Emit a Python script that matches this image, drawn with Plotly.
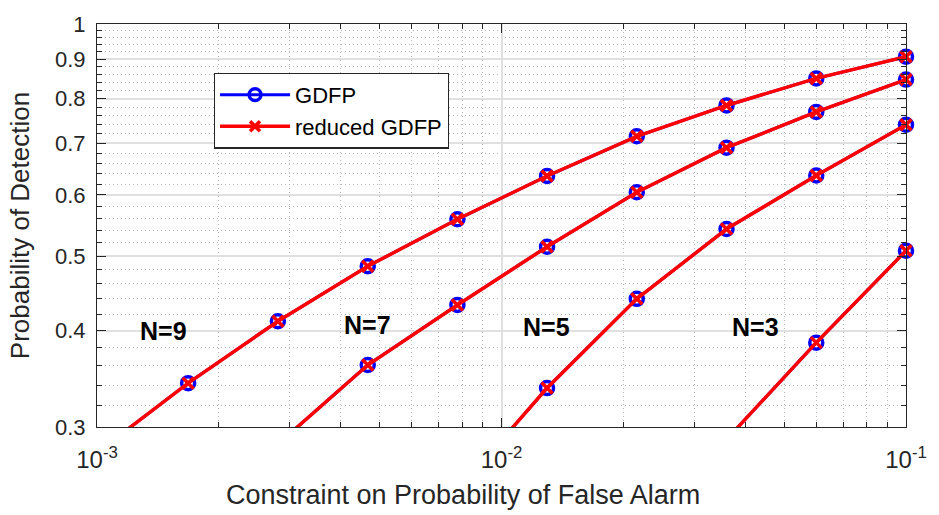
import math
import plotly.graph_objects as go

# Constraint on probability of false alarm (x) for each marker
pfa = [0.1, 0.06, 0.036, 0.0216, 0.01296, 0.00778, 0.00467, 0.0028, 0.00168, 0.00101]

# Probability of detection for N = 9, 7, 5, 3 (last value lies below the axis and is clipped)
pd_n9 = [0.907, 0.850, 0.784, 0.715, 0.635, 0.558, 0.485, 0.4115, 0.342, 0.279]
pd_n7 = [0.847, 0.769, 0.691, 0.605, 0.514, 0.432, 0.361, 0.285]
pd_n5 = [0.740, 0.636, 0.542, 0.440, 0.337, 0.248]
pd_n3 = [0.508, 0.386, 0.289]

curves = [("N=9", pd_n9), ("N=7", pd_n7), ("N=5", pd_n5), ("N=3", pd_n3)]
label_pos = {"N=9": (0.001457, 0.400), "N=7": (0.00467, 0.407),
             "N=5": (0.0129, 0.404), "N=3": (0.0424, 0.405)}

x_ticks = [1e-3, 1e-2, 1e-1]
x_ticktext = ["10<sup>-3</sup>", "10<sup>-2</sup>", "10<sup>-1</sup>"]
y_ticks = [0.3, 0.4, 0.5, 0.6, 0.7, 0.8, 0.9, 1.0]
y_ticktext = ["0.3", "0.4", "0.5", "0.6", "0.7", "0.8", "0.9", "1"]
x_minor = [m * 10.0 ** e for e in (-3, -2) for m in range(2, 10)]
y_minor = [round(0.30 + 0.02 * k, 2) for k in range(36) if k % 5 != 0]

FONT = "Liberation Sans, Arial, sans-serif"
fig = go.Figure()

def sizes(vals, s):
    return [s if v >= 0.3 else 0 for v in vals]

for i, (name, vals) in enumerate(curves):
    xs = pfa[:len(vals)]
    fig.add_trace(go.Scatter(
        x=xs, y=vals, mode="lines+markers", name="GDFP",
        legendgroup="gdfp", showlegend=(i == 0),
        line=dict(color="#0000ff", width=3),
        marker=dict(symbol="circle", size=sizes(vals, 13), color="rgba(0,0,0,0)",
                    opacity=1, line=dict(width=3.5, color="#0000ff")),
        cliponaxis=False))
for i, (name, vals) in enumerate(curves):
    xs = pfa[:len(vals)]
    fig.add_trace(go.Scatter(
        x=xs, y=vals, mode="lines+markers", name="reduced GDFP",
        legendgroup="red", showlegend=(i == 0),
        line=dict(color="#ff0000", width=3.5),
        marker=dict(symbol="x-thin-open", size=sizes(vals, 11), color="#ff0000",
                    opacity=1, line=dict(width=3.5, color="#ff0000")),
        cliponaxis=False))

for name, (lx, ly) in label_pos.items():
    fig.add_annotation(x=math.log10(lx), y=math.log10(ly), xref="x", yref="y",
                       text="<b>" + name + "</b>", showarrow=False,
                       font=dict(size=25, color="black", family=FONT))

fig.add_annotation(x=(467 - 97) / 817, y=-0.168, xref="paper", yref="paper",
                   text="Constraint on Probability of False Alarm", showarrow=False,
                   xanchor="center", yanchor="middle",
                   font=dict(size=27, color="#262626", family=FONT))

axis_common = dict(
    showline=True, linecolor="#262626", linewidth=1.2, mirror="allticks",
    ticks="inside", ticklen=9, tickcolor="#262626", tickwidth=1,
    showgrid=True, gridcolor="#e0e0e0", gridwidth=1.5,
    zeroline=False,
)
minor_common = dict(ticks="inside", ticklen=5, tickcolor="#262626", showgrid=True,
                    gridcolor="#b8b8b8", griddash="1px,3px", gridwidth=1)

fig.update_xaxes(type="log", range=[-3, -0.99999], tickvals=x_ticks, ticktext=x_ticktext,
                 ticklabelstandoff=11,
                 tickfont=dict(size=24, color="#262626", family=FONT),
                 minor=dict(tickvals=x_minor, **minor_common),
                 **axis_common)
fig.update_yaxes(type="log", range=[-0.5228787, 0], tickvals=y_ticks,
                 ticktext=y_ticktext, ticklabelstandoff=6,
                 tickfont=dict(size=22, color="#262626", family=FONT),
                 title=dict(text="Probability of Detection", standoff=17,
                            font=dict(size=26, color="#262626", family=FONT)),
                 minor=dict(tickvals=y_minor, **minor_common),
                 **axis_common)

fig.update_layout(
    width=939, height=515,
    margin=dict(l=97, r=25, t=13, b=88),
    paper_bgcolor="white", plot_bgcolor="white",
    font=dict(family=FONT, color="#262626"),
    legend=dict(x=(215 - 97) / 817, y=(427 - 63) / 414, xanchor="left", yanchor="top",
                bgcolor="white", bordercolor="#262626", borderwidth=1.2,
                font=dict(size=22, color="black", family=FONT), itemwidth=70,
                tracegroupgap=0),
    showlegend=True,
)

fig.write_html("out.html")
